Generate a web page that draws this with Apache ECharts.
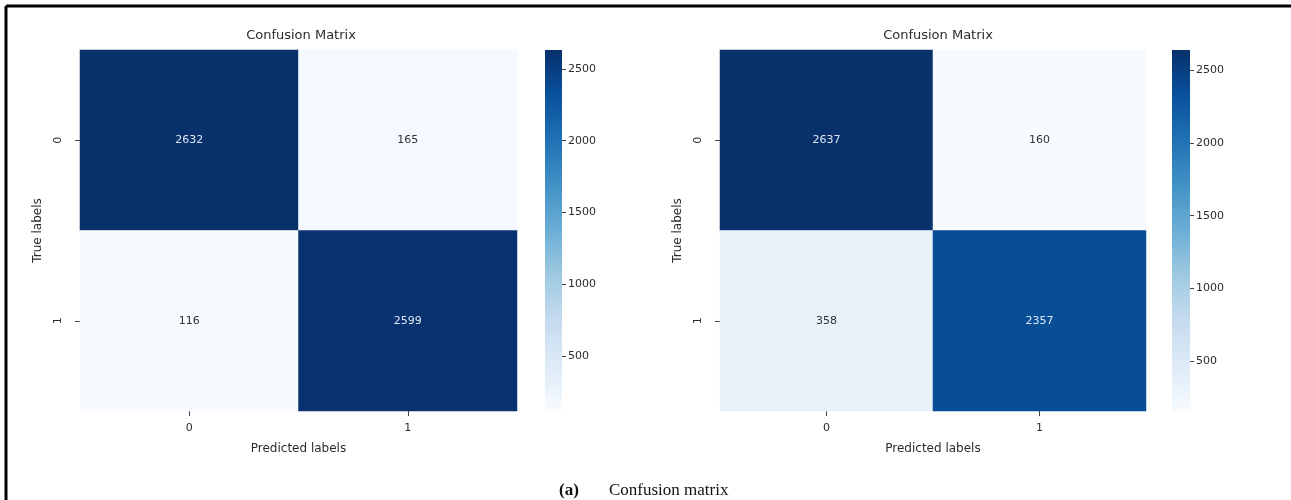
<!DOCTYPE html>
<html>
<head>
<meta charset="utf-8">
<title>Confusion Matrix</title>
<script src="https://cdn.jsdelivr.net/npm/echarts@6/dist/echarts.min.js"></script>
<style>
  html, body { margin: 0; padding: 0; background: #ffffff; }
  #chart { width: 1291px; height: 500px; }
</style>
</head>
<body>
<div id="chart"></div>
<script>
// Class labels for both axes
const predictedLabels = ['0', '1'];
const trueLabels = ['0', '1'];

// Confusion matrix counts, rows = true label, cols = predicted label
const matrixA = [
  [2632, 165],
  [116, 2599]
];
const matrixB = [
  [2637, 160],
  [358, 2357]
];

// Colorbar tick values
const colorbarTicks = [500, 1000, 1500, 2000, 2500];

// Matplotlib "Blues" colormap stops
const blues = ['#f7fbff', '#deebf7', '#c6dbef', '#9ecae1', '#6baed6',
               '#4292c6', '#2171b5', '#08519c', '#08306b'];

const FONT = 'DejaVu Sans';
const TEXT = '#2b2b2b';

function toCells(m) {
  const out = [];
  for (let r = 0; r < m.length; r++) {
    for (let c = 0; c < m[r].length; c++) {
      out.push([c, r, m[r][c]]);
    }
  }
  return out;
}
function minOf(m) { return Math.min.apply(null, m.flat()); }
function maxOf(m) { return Math.max.apply(null, m.flat()); }

const panels = [
  { m: matrixA, grid: { left: 80, top: 50, width: 437, height: 361 },
    bar: { left: 545, top: 50, width: 17, height: 361 }, titleX: 296 },
  { m: matrixB, grid: { left: 720, top: 50, width: 426, height: 361 },
    bar: { left: 1172, top: 50, width: 18, height: 361 }, titleX: 933 }
];

const grids = [], xAxes = [], yAxes = [], series = [], visualMaps = [], titles = [];

panels.forEach((p, i) => {
  const lo = minOf(p.m), hi = maxOf(p.m);
  const gi = grids.length;
  grids.push(p.grid);
  grids.push(p.bar);

  // Heatmap axes
  xAxes.push({
    type: 'category', gridIndex: gi, data: predictedLabels, position: 'bottom',
    name: 'Predicted labels', nameLocation: 'middle', nameGap: 32,
    nameTextStyle: { fontFamily: FONT, fontSize: 12, color: TEXT },
    axisLine: { show: false },
    axisTick: { show: true, alignWithLabel: true, length: 5, lineStyle: { color: '#444' } },
    axisLabel: { fontFamily: FONT, fontSize: 11, color: TEXT, margin: 12 },
    splitLine: { show: false }
  });
  yAxes.push({
    type: 'category', gridIndex: gi, data: trueLabels, inverse: true,
    name: 'True labels', nameLocation: 'middle', nameGap: 36, nameRotate: 90,
    nameTextStyle: { fontFamily: FONT, fontSize: 12, color: TEXT },
    axisLine: { show: false },
    axisTick: { show: true, alignWithLabel: true, length: 5, lineStyle: { color: '#444' } },
    axisLabel: { fontFamily: FONT, fontSize: 11, color: TEXT, rotate: 90, margin: 16 },
    splitLine: { show: false }
  });

  // Colorbar axes
  xAxes.push({
    type: 'category', gridIndex: gi + 1, data: [''], show: false
  });
  yAxes.push({
    type: 'value', gridIndex: gi + 1, min: lo, max: hi, position: 'right',
    axisLine: { show: false },
    axisTick: { show: true, length: 4, customValues: colorbarTicks, lineStyle: { color: '#444' } },
    axisLabel: {
      fontFamily: FONT, fontSize: 11, color: TEXT, margin: 6,
      customValues: colorbarTicks, formatter: v => String(v)
    },
    splitLine: { show: false }
  });

  const heatIndex = series.length;
  series.push({
    type: 'heatmap', xAxisIndex: gi, yAxisIndex: gi,
    data: toCells(p.m).map(d => ({
      value: d,
      label: { color: d[2] > (lo + hi) / 2 ? '#dde7f3' : '#333333' }
    })),
    label: { show: true, fontFamily: FONT, fontSize: 11 },
    itemStyle: { borderWidth: 0 },
    emphasis: { disabled: true }
  });

  // Colorbar: a gradient rectangle spanning the data range on the value axis
  series.push({
    type: 'custom', xAxisIndex: gi + 1, yAxisIndex: gi + 1,
    data: [[0, lo, hi]],
    silent: true,
    renderItem: function (params, api) {
      const top = api.coord([0, api.value(2)]);
      const bottom = api.coord([0, api.value(1)]);
      const cs = params.coordSys;
      return {
        type: 'rect',
        shape: { x: cs.x, y: top[1], width: cs.width, height: bottom[1] - top[1] },
        style: {
          fill: new echarts.graphic.LinearGradient(0, 1, 0, 0,
            blues.map((c, k) => ({ offset: k / (blues.length - 1), color: c })))
        }
      };
    }
  });

  visualMaps.push({
    type: 'continuous', show: false, seriesIndex: heatIndex,
    min: lo, max: hi, inRange: { color: blues }
  });

  titles.push({
    text: 'Confusion Matrix', left: p.titleX, top: 24, textAlign: 'center',
    textStyle: { fontFamily: FONT, fontSize: 13, fontWeight: 'normal', color: TEXT }
  });
});

// Figure caption
titles.push({
  text: '{b|(a)}{n|Confusion matrix}', left: 554, top: 477,
  textStyle: {
    fontWeight: 'normal',
    rich: {
      b: { fontFamily: 'Liberation Serif', fontSize: 17, fontWeight: 'bold', color: '#111', width: 50 },
      n: { fontFamily: 'Liberation Serif', fontSize: 17, fontWeight: 'normal', color: '#111' }
    }
  }
});

const chart = echarts.init(document.getElementById('chart'), null, { renderer: 'canvas' });
chart.setOption({
  backgroundColor: '#ffffff',
  animation: false,
  title: titles,
  grid: grids,
  xAxis: xAxes,
  yAxis: yAxes,
  visualMap: visualMaps,
  series: series,
  graphic: [
    // frame around the figure
    { type: 'line', shape: { x1: 6, y1: 6, x2: 1291, y2: 6 }, style: { stroke: '#000', lineWidth: 3 } },
    { type: 'line', shape: { x1: 6, y1: 6, x2: 6, y2: 500 }, style: { stroke: '#000', lineWidth: 3 } }
  ]
});
</script>
</body>
</html>
